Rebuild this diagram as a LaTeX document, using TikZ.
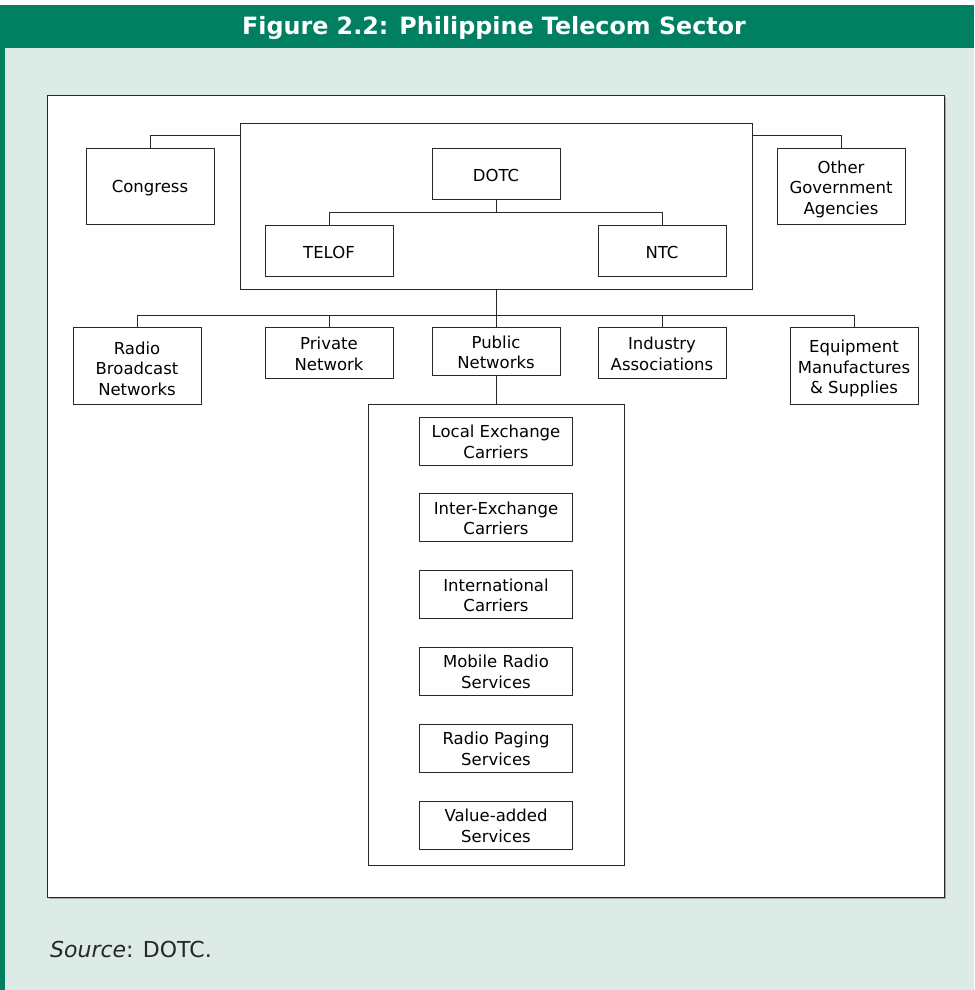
\documentclass[tikz,border=0pt]{standalone}
\usepackage{fontspec}
\setmainfont{DejaVu Sans}
\definecolor{hdrgreen}{RGB}{0,128,96}
\definecolor{panelbg}{RGB}{221,235,231}
\definecolor{linegray}{RGB}{40,40,40}
\newcommand{\tallstrut}{\rule{0pt}{18.5pt}}
\newcommand{\midstrut}{\rule{0pt}{15.5pt}}
\newcommand{\lowstrut}{\rule{0pt}{14.5pt}}
\begin{document}
\begin{tikzpicture}[x=1pt,y={(0pt,-1pt)},
  orgbox/.style={draw=linegray, line width=1pt, fill=white, inner sep=0pt, align=center,
    minimum width=128pt, font=\fontsize{16.5}{20.5}\selectfont},
  onebox/.style={orgbox, execute at begin node={\rule{0pt}{16.5pt}}},
  subbox/.style={orgbox, minimum width=153pt, minimum height=48pt},
  frame/.style={draw=linegray, line width=1pt, fill=white, inner sep=0pt},
  conn/.style={draw=linegray, line width=1pt}]
\useasboundingbox (0,0) rectangle (974,990);
% background
\fill[white] (0,0) rectangle (974,990);
\fill[panelbg] (0,48) rectangle (974,990);
\fill[hdrgreen] (0,5) rectangle (974,48);
\fill[hdrgreen] (0,48) rectangle (5,990);
\node[text=white, font=\bfseries\fontsize{23.8}{26}\selectfont] (title) at (494,28) {Figure 2.2: Philippine Telecom Sector};
% white panel
\fill[gray!70] (49,97) rectangle (946,899);
\node[frame, minimum width=897pt, minimum height=802pt] (panel) at (495.5,496) {};
% government block
\node[frame, minimum width=512pt, minimum height=166pt] (gov) at (496,206) {};
\node[onebox, minimum height=76pt] (cong) at (150,186) {Congress};
\node[orgbox, minimum height=76pt] (oga) at (841,186) {\tallstrut Other\\Government\\Agencies};
\node[onebox, minimum height=51pt] (dotc) at (496,173.5) {DOTC};
\node[onebox, minimum height=51pt] (telof) at (329,250.5) {TELOF};
\node[onebox, minimum height=51pt] (ntc) at (662,250.5) {NTC};
\coordinate (cj) at (240,135);
\coordinate (oj) at (752,135);
\coordinate (dj) at (496,212);
\draw[conn] (cong.north) |- (cj);
\draw[conn] (oga.north) |- (oj);
\draw[conn] (dotc.south) -- (dj);
\draw[conn] (dj) -| (telof.north);
\draw[conn] (dj) -| (ntc.north);
% second row
\node[orgbox, minimum height=77pt] (radio) at (137,365.5) {\tallstrut Radio\\Broadcast\\Networks};
\node[orgbox, minimum height=51pt] (priv) at (329,352.5) {\midstrut Private\\Network};
\node[orgbox, minimum height=48pt] (pub) at (496,351) {\midstrut Public\\Networks};
\node[orgbox, minimum height=51pt] (ind) at (662,352.5) {\midstrut Industry\\Associations};
\node[orgbox, minimum height=77pt] (equip) at (854,365.5) {\tallstrut Equipment\\Manufactures\\\& Supplies};
\coordinate (bus) at (496,315);
\draw[conn] (gov.south) -- (pub.north);
\draw[conn] (bus) -| (radio.north);
\draw[conn] (bus) -| (priv.north);
\draw[conn] (bus) -| (ind.north);
\draw[conn] (bus) -| (equip.north);
% public networks detail
\node[frame, minimum width=256pt, minimum height=461pt] (pubbox) at (496,634.5) {};
\draw[conn] (pub.south) -- (pubbox.north);
\node[subbox] (lec) at (496,441) {\lowstrut Local Exchange\\Carriers};
\node[subbox] (iec) at (496,517.5) {\lowstrut Inter-Exchange\\Carriers};
\node[subbox] (intl) at (496,594.5) {\lowstrut International\\Carriers};
\node[subbox] (mob) at (496,671) {\lowstrut Mobile Radio\\Services};
\node[subbox] (pag) at (496,748) {\lowstrut Radio Paging\\Services};
\node[subbox] (vas) at (496,825) {\lowstrut Value-added\\Services};
% source
\node[anchor=base west, text=black!85, inner sep=0pt, font=\fontsize{22}{24}\selectfont] (src) at (50,957) {\textit{Source}: DOTC.};
\end{tikzpicture}
\end{document}
